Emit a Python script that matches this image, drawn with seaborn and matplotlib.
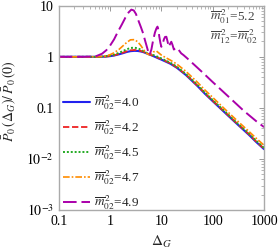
import numpy as np
import pandas as pd
import matplotlib
matplotlib.use("Agg")
import matplotlib.pyplot as plt
import seaborn as sns
from matplotlib.ticker import LogLocator, FixedLocator, FixedFormatter, NullFormatter

# ---------------- data ----------------
dg = [0.1, 0.2, 0.3, 0.4, 0.5, 0.6, 0.7, 0.8, 1.0, 1.2, 1.5, 1.8, 2.1, 2.5, 3.0, 3.5,
      4.0, 4.5, 5.0, 5.5, 6.0, 7.0, 8.0, 9.0, 10, 12, 15, 20, 30, 50, 70, 100, 150,
      200, 300, 500, 700, 1000]

p_40 = [1.0, 1.0, 1.0, 1.0, 1.0, 1.0, 1.005, 1.01, 1.03, 1.06, 1.12, 1.18, 1.24, 1.29,
        1.31, 1.30, 1.27, 1.23, 1.18, 1.14, 1.10, 1.03, 0.97, 0.92, 0.88, 0.81, 0.73,
        0.61, 0.44, 0.27, 0.19, 0.135, 0.092, 0.070, 0.048, 0.030, 0.0215, 0.0155]
p_42 = [1.0, 1.0, 1.0, 1.0, 1.0, 1.0, 1.005, 1.01, 1.035, 1.07, 1.14, 1.21, 1.28, 1.34,
        1.36, 1.34, 1.30, 1.25, 1.19, 1.14, 1.10, 1.05, 0.99, 0.94, 0.90, 0.83, 0.745,
        0.62, 0.45, 0.275, 0.195, 0.138, 0.094, 0.072, 0.049, 0.031, 0.022, 0.0159]
p_45 = [1.0, 1.0, 1.0, 1.0, 1.0, 1.0, 1.01, 1.02, 1.05, 1.10, 1.20, 1.30, 1.40, 1.49,
        1.51, 1.46, 1.38, 1.29, 1.21, 1.14, 1.11, 1.08, 1.03, 0.97, 0.93, 0.85, 0.765,
        0.64, 0.46, 0.285, 0.20, 0.142, 0.097, 0.074, 0.050, 0.032, 0.0228, 0.0164]
p_47 = [1.0, 1.0, 1.0, 1.0, 1.005, 1.01, 1.02, 1.04, 1.10, 1.20, 1.40, 1.65, 1.90, 2.15,
        2.17, 1.95, 1.65, 1.38, 1.20, 1.12, 1.10, 1.25, 1.30, 1.18, 1.08, 0.97, 0.86,
        0.72, 0.52, 0.32, 0.225, 0.16, 0.108, 0.082, 0.056, 0.035, 0.0255, 0.0185]

dg_49 = [0.1, 0.3, 0.45, 0.55, 0.7, 0.85, 1.0, 1.2, 1.4, 1.7, 2.0, 2.3, 2.6, 2.9, 3.2,
         3.5, 4.0, 4.4, 4.8, 5.1, 5.5, 5.9, 6.4, 6.9, 7.5, 8.0, 8.4, 8.8, 9.1, 9.6, 10.0,
         10.6, 11.2, 11.8, 12.5, 13.2, 13.9, 14.8, 15.6, 16.5, 17.5, 18.5, 19.5, 20.9,
         22.5, 24.3, 27, 32, 41, 60, 100, 200, 400, 700, 1000]
p_49 = [1.0, 1.0, 1.01, 1.04, 1.15, 1.35, 1.65, 2.2, 3.0, 4.3, 5.9, 7.4, 8.4, 8.1, 6.9,
        5.4, 3.8, 2.9, 2.1, 1.7, 1.3, 1.08, 1.4, 2.1, 3.0, 3.6, 3.9, 3.3, 2.5, 1.85, 1.57,
        1.8, 2.2, 2.45, 2.47, 2.0, 1.57, 1.8, 1.97, 1.7, 1.39, 1.45, 1.5, 1.46,
        1.3, 1.17, 1.08, 0.93, 0.74, 0.52, 0.32, 0.168, 0.088, 0.055, 0.042]

labels = [r"$\overline{m}^{\,2}_{02}$=4.0", r"$\overline{m}^{\,2}_{02}$=4.2",
          r"$\overline{m}^{\,2}_{02}$=4.5", r"$\overline{m}^{\,2}_{02}$=4.7",
          r"$\overline{m}^{\,2}_{02}$=4.9"]

x_ticks = [0.1, 1, 10, 100, 1000]
x_ticklabels = ["0.1", "1", "10", "100", "1000"]
y_ticks = [1e-3, 1e-2, 0.1, 1, 10]
y_ticklabels = [r"$10^{-3}$", r"$10^{-2}$", "0.1", "1", "10"]

# ---------------- style ----------------
sns.set_theme(style="white")
plt.rcParams["font.family"] = ["Liberation Serif", "DejaVu Serif"]
plt.rcParams["mathtext.fontset"] = "stix"

fig = plt.figure(figsize=(2.78, 2.5), dpi=100)
ax = fig.add_axes([0.211, 0.16, 0.739, 0.817])

series = [(dg, p_40, "#2222ee", "-", 1.5),
          (dg, p_42, "#ee2222", (0, (3.5, 1.5)), 1.3),
          (dg, p_45, "#22aa22", (0, (1, 1)), 1.4),
          (dg, p_47, "#ff8c00", (0, (4, 1.2, 1, 1.2)), 1.2),
          (dg_49, p_49, "#aa00aa", (0, (7, 2.5)), 1.4)]

for (xs, ys, col, ls, lw), lab in zip(series, labels):
    df = pd.DataFrame({"x": xs, "y": ys})
    sns.lineplot(data=df, x="x", y="y", ax=ax, color=col, linestyle=ls, lw=lw,
                 label=lab, sort=False, estimator=None)

ax.set_xscale("log")
ax.set_yscale("log")
ax.set_xlim(0.1, 1000)
ax.set_ylim(1e-3, 10)

ax.xaxis.set_major_locator(FixedLocator(x_ticks))
ax.xaxis.set_major_formatter(FixedFormatter(x_ticklabels))
ax.yaxis.set_major_locator(FixedLocator(y_ticks))
ax.yaxis.set_major_formatter(FixedFormatter(y_ticklabels))
ax.xaxis.set_minor_locator(LogLocator(base=10, subs=np.arange(2, 10)))
ax.yaxis.set_minor_locator(LogLocator(base=10, subs=np.arange(2, 10)))
ax.xaxis.set_minor_formatter(NullFormatter())
ax.yaxis.set_minor_formatter(NullFormatter())

ax.tick_params(which="both", direction="in", top=True, right=True, colors="#999999",
               labelcolor="black", labelsize=10)
ax.tick_params(which="major", length=3.5, width=0.7)
ax.tick_params(which="minor", length=2, width=0.5)
for sp in ax.spines.values():
    sp.set_color("#aaaaaa")
    sp.set_linewidth(1.0)

ax.set_xlabel(r"$\Delta_G$", fontsize=11, labelpad=4)
ax.set_ylabel(r"$\bar{P}_0\,(\Delta_G)/\,\bar{P}_0\,(0)$", fontsize=10)
ax.yaxis.set_label_coords(-0.2, 0.535)

ax.text(0.956, 0.946, r"$\overline{m}^{\,2}_{01}$=5.2", transform=ax.transAxes,
        ha="right", va="center", fontsize=9.5, color="#444444")
ax.text(0.971, 0.848, r"$\overline{m}^{\,2}_{12}$=$\overline{m}^{\,2}_{02}$",
        transform=ax.transAxes, ha="right", va="center", fontsize=9.5, color="#444444")

leg = ax.legend(loc="center left", frameon=False, fontsize=9.5, handlelength=2.05,
                handletextpad=0.35, labelspacing=0.48, borderaxespad=0.0,
                borderpad=0.3, bbox_to_anchor=(0.0, 0.28))

fig.savefig("out.png", dpi=100)
